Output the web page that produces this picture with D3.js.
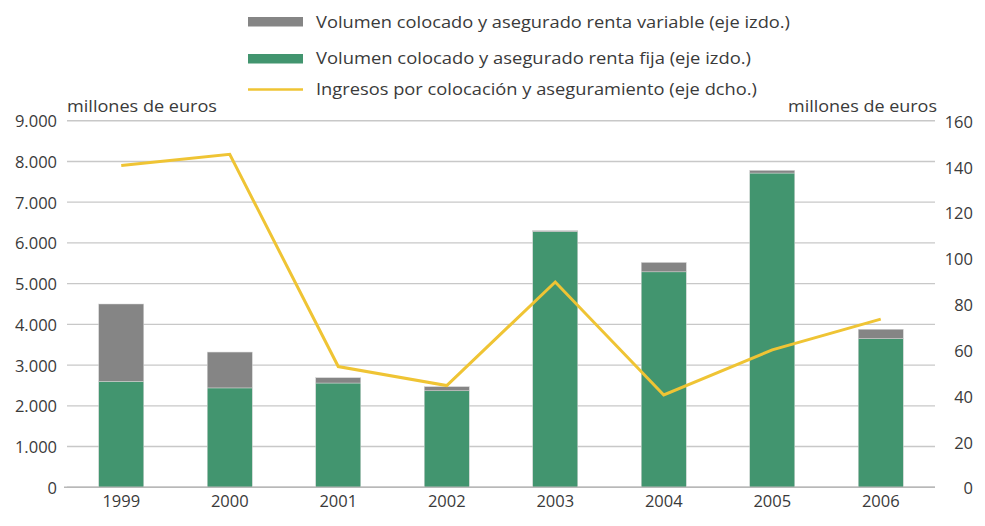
<!DOCTYPE html>
<html>
<head>
<meta charset="utf-8">
<script src="https://cdn.jsdelivr.net/npm/d3@7"></script>
<style>
  html, body { margin: 0; padding: 0; background: #fff; }
  svg { display: block; }
  text { font-family: "Open Sans", "Noto Sans", sans-serif; fill: #3a3a3a; }
</style>
</head>
<body>
<svg id="chart" width="985" height="526"></svg>
<script>
// Años
const years = ["1999", "2000", "2001", "2002", "2003", "2004", "2005", "2006"];
// Volumen colocado y asegurado renta fija (millones de euros, eje izdo.)
const rentaFija = [2600, 2440, 2560, 2370, 6280, 5290, 7715, 3650];
// Volumen colocado y asegurado renta variable (millones de euros, eje izdo.)
const rentaVariable = [1900, 880, 130, 100, 20, 230, 65, 230];
// Ingresos por colocación y aseguramiento (millones de euros, eje dcho.)
const ingresos = [140.4, 145.3, 52.7, 44.4, 89.6, 40.3, 60, 73.4];
// Marcas de los ejes
const leftTicks = [0, 1000, 2000, 3000, 4000, 5000, 6000, 7000, 8000, 9000];
const rightTicks = [0, 20, 40, 60, 80, 100, 120, 140, 160];
const legendLabels = [
  "Volumen colocado y asegurado renta variable (eje izdo.)",
  "Volumen colocado y asegurado renta fija (eje izdo.)",
  "Ingresos por colocación y aseguramiento (eje dcho.)"
];
const axisTitle = "millones de euros";

const colors = { variable: "#858585", fija: "#42956f", ingresos: "#efc434", grid: "#c8c8c8" };

const svg = d3.select("#chart");
const plot = { left: 67, right: 935, top: 120.7, bottom: 487.3 };

const locale = d3.formatLocale({ decimal: ",", thousands: ".", grouping: [3], currency: ["", " €"] });
const fmtThousands = locale.format(",");

const x = d3.scaleBand().domain(years).range([plot.left, plot.right])
  .paddingInner(0.585).paddingOuter(0.2925);
const yLeft = d3.scaleLinear().domain([0, 9000]).range([plot.bottom, plot.top]);
const yRight = d3.scaleLinear().domain([0, 160]).range([plot.bottom, plot.top]);

// Líneas de cuadrícula
svg.append("g").selectAll("line").data(leftTicks).join("line")
  .attr("x1", plot.left).attr("x2", plot.right)
  .attr("y1", d => yLeft(d)).attr("y2", d => yLeft(d))
  .attr("stroke", colors.grid).attr("stroke-width", 1.4);

// Eje izquierdo
const axL = svg.append("g").attr("transform", `translate(${plot.left - 10},0)`)
  .call(d3.axisLeft(yLeft).tickValues(leftTicks).tickFormat(fmtThousands).tickSize(0).tickPadding(0));
axL.select(".domain").remove();
axL.selectAll("text").style("font-size", "16.5px").attr("fill", "#3a3a3a").attr("dy", "0.36em");

// Eje derecho
const axR = svg.append("g").attr("transform", `translate(973,0)`)
  .call(d3.axisLeft(yRight).tickValues(rightTicks).tickSize(0).tickPadding(0));
axR.select(".domain").remove();
axR.selectAll("text").style("font-size", "16.5px").attr("fill", "#3a3a3a").attr("dy", "0.4em");

// Barras apiladas
const stackData = years.map((yr, i) => ({ year: yr, fija: rentaFija[i], variable: rentaVariable[i] }));
const series = d3.stack().keys(["fija", "variable"])(stackData);
svg.append("g").selectAll("g").data(series).join("g")
  .attr("fill", d => colors[d.key])
  .selectAll("rect").data(d => d).join("rect")
  .attr("x", d => x(d.data.year))
  .attr("width", x.bandwidth())
  .attr("y", d => yLeft(d[1]))
  .attr("height", d => yLeft(d[0]) - yLeft(d[1]))
  .attr("stroke", "#d6d6d6").attr("stroke-width", 0.5);

// Eje inferior
svg.append("line").attr("x1", plot.left - 3).attr("x2", plot.right)
  .attr("y1", plot.bottom).attr("y2", plot.bottom)
  .attr("stroke", "#b8b8b8").attr("stroke-width", 1.5);
const axB = svg.append("g").attr("transform", `translate(0,${plot.bottom})`)
  .call(d3.axisBottom(x).tickSize(0).tickPadding(0));
axB.select(".domain").remove();
axB.selectAll("text").style("font-size", "16.5px").attr("fill", "#3a3a3a").attr("y", 4).attr("dy", "0.95em");

// Línea de ingresos
const line = d3.line().x((d, i) => x(years[i]) + x.bandwidth() / 2).y(d => yRight(d));
svg.append("path").datum(ingresos).attr("d", line)
  .attr("fill", "none").attr("stroke", colors.ingresos).attr("stroke-width", 3)
  .attr("stroke-linejoin", "miter");

// Títulos de los ejes
svg.append("text").attr("x", 67).attr("y", 112).text(axisTitle)
  .style("font-size", "16.5px").attr("textLength", 150).attr("lengthAdjust", "spacingAndGlyphs");
svg.append("text").attr("x", 788).attr("y", 112).text(axisTitle)
  .style("font-size", "16.5px").attr("textLength", 149).attr("lengthAdjust", "spacingAndGlyphs");

// Leyenda
const legend = svg.append("g");
legend.append("rect").attr("x", 248).attr("y", 17).attr("width", 55).attr("height", 9.5).attr("fill", colors.variable);
legend.append("rect").attr("x", 248).attr("y", 54).attr("width", 55).attr("height", 9.5).attr("fill", colors.fija);
legend.append("line").attr("x1", 248).attr("x2", 303).attr("y1", 89.5).attr("y2", 89.5)
  .attr("stroke", colors.ingresos).attr("stroke-width", 2.5);
const legendY = [28, 64, 95];
const legendW = [474, 435, 441];
legend.selectAll("text.lg").data(legendLabels).join("text").attr("class", "lg")
  .attr("x", 316).attr("y", (d, i) => legendY[i]).text(d => d)
  .style("font-size", "17px")
  .attr("textLength", (d, i) => legendW[i]).attr("lengthAdjust", "spacingAndGlyphs");
</script>
</body>
</html>
